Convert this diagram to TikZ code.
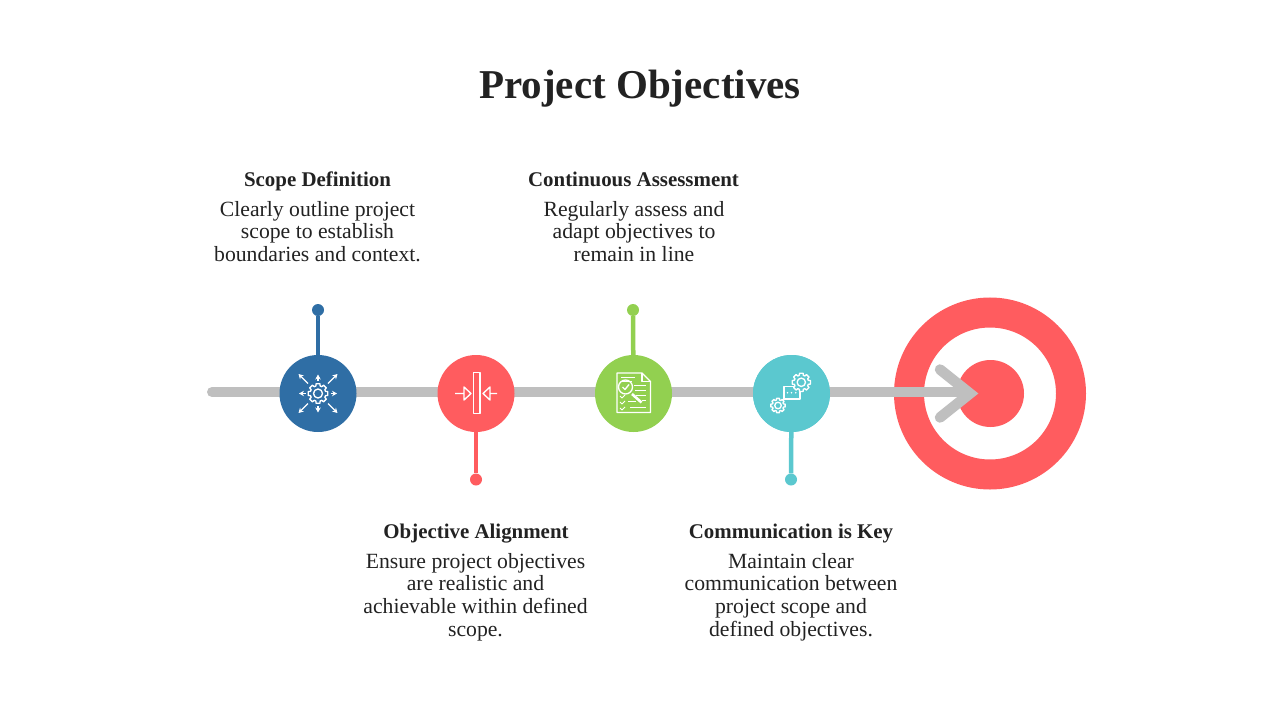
\documentclass[tikz,border=0pt]{standalone}
\usepackage{fontspec}
\setmainfont{Liberation Serif}
\usetikzlibrary{arrows.meta,calc,backgrounds}
\definecolor{ink}{HTML}{222222}
\definecolor{track}{HTML}{BFBFBF}
\definecolor{cblue}{HTML}{2F6EA5}
\definecolor{cred}{HTML}{FF5C5F}
\definecolor{cgreen}{HTML}{92D050}
\definecolor{cteal}{HTML}{5BC8CF}
\tikzset{
  x=1pt,y=-1pt,
  hub/.style={circle,inner sep=0pt,minimum size=77pt,fill=#1},
  dot/.style={circle,inner sep=0pt,minimum size=12pt,fill=#1},
  stem/.style={line width=4.5pt,draw=#1},
  rail/.style={draw=track,line width=10pt},
  headtxt/.style={font=\fontsize{20.9}{24}\selectfont\bfseries,text=ink,align=center,inner sep=0pt,anchor=base},
  bodytxt/.style={font=\fontsize{21.7}{22.6}\selectfont,text=ink,align=center,inner sep=0pt,anchor=north},
  ico/.style={draw=white,line width=1.35pt,line join=round},
  tinyarrow/.style={draw=white,line width=1.35pt,-{Stealth[length=5pt,width=5.5pt]}},
}
% gear: centre x, y, outer radius, fill colour
\newcommand{\cog}[4]{%
  \pgfmathsetmacro{\ri}{#3*0.78}
  \draw[ico,fill=#4] ($(#1,#2)+(-11:#3)$)
    \foreach \k in {0,45,...,315}{
      -- ($(#1,#2)+(\k-11:#3)$) -- ($(#1,#2)+(\k+11:#3)$) -- ($(#1,#2)+(\k+16:\ri)$) -- ($(#1,#2)+(\k+29:\ri)$)
    } -- cycle;
  \draw[ico] (#1,#2) circle[radius=#3*0.45];
}
\begin{document}
\begin{tikzpicture}
\useasboundingbox (0,0) rectangle (1280,720);
\node[font=\fontsize{41}{46}\selectfont\bfseries,text=ink,inner sep=0pt] (title) at (640,88.5) {Project Objectives};

% target
\node[circle,inner sep=0pt,minimum size=162pt,draw=cred,line width=30pt,fill=white] (ring) at (990,393.5) {};
\node[circle,inner sep=0pt,minimum size=67pt,fill=cred] (bull) at (990.5,393.5) {};

% hubs
\node[hub=cblue] (h1) at (318,393.5) {};
\node[hub=cred] (h2) at (476,393.5) {};
\node[hub=cgreen] (h3) at (633.5,393.5) {};
\node[hub=cteal] (h4) at (791.5,393.5) {};

% track and arrow
\coordinate (start) at (212,392);
\coordinate (tip) at (969,392);
\coordinate (c1) at (940,369.5);
\coordinate (c2) at (940,417.5);
\coordinate (apex) at (970,393.5);
\begin{scope}[on background layer]
\draw[rail,line cap=round] (start) -- (h1 |- start);
\draw[rail] (h1 |- start) -- (h2 |- start);
\draw[rail] (h2 |- start) -- (h3 |- start);
\draw[rail] (h3 |- start) -- (h4 |- start);
\end{scope}
\draw[rail,shorten <=-2pt] (h4.east |- start) -- (tip);
\draw[track,line width=10.5pt,line cap=round,line join=miter] (c1) -- (apex) -- (c2);
\node[hub=cteal] at (h4) {};

% stems and dots
\node[dot=cblue] (d1) at (318,310) {};
\node[dot=cred] (d2) at (476,479.5) {};
\node[dot=cgreen] (d3) at (633,310) {};
\node[dot=cteal] (d4) at (791,479.5) {};
\draw[stem=cblue] (d1) -- (h1);
\draw[stem=cred] (d2) -- (h2);
\draw[stem=cgreen] (d3) -- (h3);
\draw[stem=cteal] (d4) -- (h4);

% icon 1: gear with arrows
\cog{318}{393.5}{10}{cblue}
\foreach \dx/\dy in {-1/-1,1/-1,-1/1,1/1}{
  \draw[tinyarrow] (318+\dx*10,393.5+\dy*10) -- (318+\dx*19.5,393.5+\dy*19.5);
}
\foreach \dx/\dy in {0/-1,0/1,-1/0,1/0}{
  \draw[tinyarrow] (318+\dx*12.5,393.5+\dy*12.5) -- (318+\dx*19,393.5+\dy*19);
}

% icon 2: bar with arrows
\draw[ico] (473.7,372.5) rectangle (480,413.5);
\draw[ico] (455,393.5) -- (464,393.5) (464,387) -- (471,393.5) -- (464,400) -- cycle;
\draw[ico] (497,393.5) -- (490,393.5) (490,387) -- (483,393.5) -- (490,400) -- cycle;

% icon 3: document with magnifier
\draw[ico] (642,373) -- (617,373) -- (617,412.5) -- (650.5,412.5) -- (650.5,381.5) -- cycle;
\draw[ico] (642,373) -- (642,381.5) -- (650.5,381.5);
\draw[ico,line width=1pt] (621,377.5) -- (635,377.5) (621,381) -- (632,381);
\draw[ico,line width=1pt] (634,385) -- (646,385) (635,390) -- (646,390) (636,395) -- (646,395) (642,400) -- (646,400);
\draw[ico,line width=1pt] (628,401) -- (636,401) (630,407) -- (646,407);
\draw[ico] (625.5,387) circle[radius=7];
\draw[ico] (622.5,387) -- (625,389.5) -- (629,384.5);
\draw[draw=white,line width=2.6pt] (632,394) -- (641.5,402.5);
\draw[ico,line width=1pt] (620,396) -- (622,398) -- (625,395) (620,402) -- (622,404) -- (625,401) (620,408) -- (622,410) -- (625,407);

% icon 4: two gears and chat box
\draw[ico] (784,386.7) rectangle (800,399);
\draw[ico] (784,399) -- (781,402);
\foreach \xx in {787.5,791.5,795.7}{\fill[white] (\xx,392.7) circle[radius=0.9];}
\cog{801.3}{382.3}{9.3}{cteal}
\cog{778}{405.5}{7.3}{cteal}

% texts
\node[headtxt] (t1) at (317.5,186) {Scope Definition};
\node[bodytxt] (b1) at (317.5,201) {Clearly outline project\\scope to establish\\boundaries and context.};
\node[headtxt] (t3) at (633.5,186) {Continuous Assessment};
\node[bodytxt] (b3) at (634,201) {Regularly assess and\\adapt objectives to\\remain in line};
\node[headtxt] (t2) at (476,538) {Objective Alignment};
\node[bodytxt] (b2) at (475.5,553) {Ensure project objectives\\are realistic and\\achievable within defined\\scope.};
\node[headtxt] (t4) at (791,538) {Communication is Key};
\node[bodytxt] (b4) at (791,553) {Maintain clear\\communication between\\project scope and\\defined objectives.};
\end{tikzpicture}
\end{document}
